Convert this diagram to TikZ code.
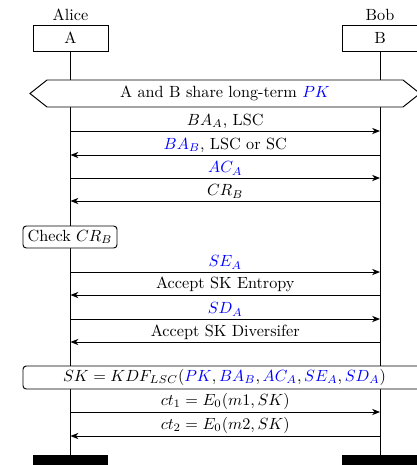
\documentclass[tikz,border=0pt]{standalone}
\usetikzlibrary{arrows.meta,fit}
\begin{document}
\begin{tikzpicture}[x=0.617pt,y=-0.617pt,
  every path/.style={line width=0.6pt},
  party/.style={draw,inner sep=0pt,fill=white},
  foot/.style={fill=black,inner sep=0pt},
  note/.style={draw,rounded corners=2pt,inner sep=0pt,fill=white},
  msg/.style={-{Stealth[length=4.8pt,width=3.8pt,inset=1.4pt]}},
  lbl/.style={anchor=south,inner sep=1.4pt}]
\useasboundingbox (0,0) rectangle (417,465);

% participants
\node (alice) at (70.5,15) {Alice};
\node (bob) at (380,15) {Bob};
\node[party,fit={(33,25) (108,51)}] (pa) {};
\node at (pa.center) {A};
\node[party,fit={(342,25) (418,51)}] (pb) {};
\node at (pb.center) {B};

% end bars
\node[foot,fit={(33,455) (108,475)}] (ea) {};
\node[foot,fit={(342,455) (418,475)}] (eb) {};

% lifelines
\draw (pa.south) -- (ea.north);
\draw (pb.south) -- (eb.north);

% shared long-term key
\draw[fill=white] (30,93.5) -- (47,80) -- (403,80) -- (420,93.5) -- (403,107) -- (47,107) -- cycle;
\node (share) at (225,93.5) {A and B share long-term \textcolor{blue}{$PK$}};

% message endpoints on the lifelines
\foreach \n/\y in {1/131,2/155,3/178,4/201,5/272,6/295,7/319,8/342,9/412,10/436}{
  \coordinate (a\n) at (70.5,\y);
  \coordinate (b\n) at (380,\y);
}

\draw[msg] (a1) -- node[lbl] {$BA_A$, LSC} (b1);
\draw[msg] (b2) -- node[lbl] {\textcolor{blue}{$BA_B$}, LSC or SC} (a2);
\draw[msg] (a3) -- node[lbl] {\textcolor{blue}{$AC_A$}} (b3);
\draw[msg] (b4) -- node[lbl] {$CR_B$} (a4);

\node[note,fit={(23,226) (117,248)}] (chk) {};
\node at (chk.center) {Check $CR_B$};

\draw[msg] (a5) -- node[lbl] {\textcolor{blue}{$SE_A$}} (b5);
\draw[msg] (b6) -- node[lbl] {Accept SK Entropy} (a6);
\draw[msg] (a7) -- node[lbl] {\textcolor{blue}{$SD_A$}} (b7);
\draw[msg] (b8) -- node[lbl] {Accept SK Diversifer} (a8);

\node[note,fit={(23,366) (426,389)}] (kdf) {};
\node at (kdf.center) {$SK = KDF_{LSC}(\textcolor{blue}{PK}, \textcolor{blue}{BA_B}, \textcolor{blue}{AC_A}, \textcolor{blue}{SE_A}, \textcolor{blue}{SD_A})$};

\draw[msg] (a9) -- node[lbl] {$ct_1 = E_0(m1, SK)$} (b9);
\draw[msg] (b10) -- node[lbl] {$ct_2 = E_0(m2, SK)$} (a10);
\end{tikzpicture}
\end{document}
